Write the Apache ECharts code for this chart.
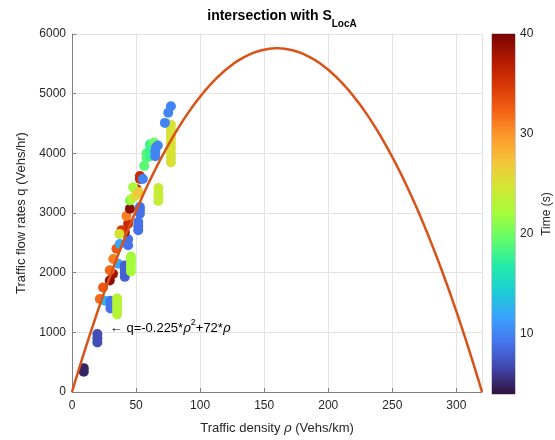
<!DOCTYPE html>
<html>
<head>
<meta charset="utf-8">
<script src="https://cdn.jsdelivr.net/npm/echarts@6/dist/echarts.min.js"></script>
<style>
  html, body { margin: 0; padding: 0; background: #fff; }
  #chart { width: 555px; height: 440px; }
</style>
</head>
<body>
<div id="chart"></div>
<script>
// measured points: density (Vehs/km), flow (Vehs/hr), time (s)
var density = [9.2, 9.2, 19.8, 19.8, 19.8, 21.7, 24.3, 25.6, 30, 30, 30,
  35.2, 35.2, 35.2, 35.2, 35.2, 29.5, 32, 29.5, 36, 41.2, 41.2, 41.2, 41.2,
  46, 46, 46, 46, 46, 32.2, 34.7, 37.3, 43.8, 43.8, 41.2, 38.6, 37,
  51.7, 51.7, 51.7, 43.8, 42.5, 45.2, 53, 53, 53, 45.2, 46.5, 50.4, 47.7,
  50, 52, 53, 53, 55.3, 56.4, 58.2, 58.2, 60.8, 60.8, 60.8, 64,
  65, 65, 65.5, 67, 67.4, 67.4, 67.4, 67.4,
  77.2, 77.2, 77.2, 77.2, 77.2, 77.2, 77.2, 77.2, 77.2, 72.5, 75.1, 77.2];
var flow = [340, 400, 830, 900, 970, 1560, 1750, 1530, 1400, 1470, 1530,
  1300, 1370, 1440, 1510, 1570, 1870, 1980, 2040, 2150, 1930, 2000, 2070, 2120,
  2020, 2090, 2160, 2230, 2270, 2230, 2400, 2480, 2460, 2560, 2680, 2710, 2650,
  2710, 2780, 2850, 2820, 2950, 3070, 2990, 3050, 3100, 3210, 3240, 3400, 3430,
  3300, 3350, 3570, 3620, 3570, 3790, 3930, 4000, 3950, 4050, 4150, 4180,
  3950, 4030, 4100, 4130, 3200, 3270, 3340, 3420,
  3850, 3930, 4010, 4090, 4170, 4250, 4330, 4410, 4480, 4510, 4680, 4790];
var time = [5, 5, 7, 7, 7, 32, 33, 13, 9, 9, 9,
  23, 23, 23, 23, 23, 39, 38, 32, 12, 8, 8, 8, 8,
  22, 22, 22, 22, 22, 31, 33, 12, 9, 9, 39, 35, 25,
  9, 9, 9, 36, 31, 39, 9, 9, 9, 20, 23, 37, 22,
  26, 27, 36, 36, 10, 19, 19, 19, 18, 18, 18, 20,
  10, 10, 10, 10, 24, 24, 24, 24,
  25, 25, 25, 25, 25, 25, 25, 25, 25, 10, 10, 10];

// fitted model q = a*rho^2 + b*rho
var fitA = -0.225;
var fitB = 72;
var rhoMax = 320;

var xTicks = { min: 0, max: 320, interval: 50 };
var yTicks = { min: 0, max: 6000, interval: 1000 };
var timeRange = [4, 40];
var timeTicks = [10, 20, 30, 40];

var turbo = ['#30123b', '#4145ab', '#4675ed', '#39a2fc', '#1bcfd4', '#24eca6',
  '#61fc6c', '#a4fc3b', '#d1e834', '#f3c63a', '#fe9b2d', '#f36315',
  '#d93806', '#b11901', '#7a0403'];

var points = density.map(function (d, i) { return [d, flow[i], time[i]]; });
var curve = [];
for (var r = 0; r <= rhoMax; r++) curve.push([r, fitA * r * r + fitB * r]);

var font = 'Liberation Sans, Arial, sans-serif';
var txt = '#262626';

var chart = echarts.init(document.getElementById('chart'));
chart.setOption({
  animation: false,
  textStyle: { fontFamily: font },
  title: {
    text: '{b|intersection with S}{s|LocA}',
    left: 277, textAlign: 'center', top: 4,
    textStyle: {
      rich: {
        b: { fontFamily: font, fontWeight: 'bold', fontSize: 14, color: '#000', lineHeight: 16, verticalAlign: 'top' },
        s: { fontFamily: font, fontWeight: 'bold', fontSize: 10, color: '#000', lineHeight: 20, verticalAlign: 'bottom' }
      }
    }
  },
  grid: [
    { left: 72, right: 73, top: 34, bottom: 46, containLabel: false },
    { left: 492, width: 23, top: 34, bottom: 46, show: true, borderColor: '#999', borderWidth: 1 }
  ],
  visualMap: {
    show: false, type: 'continuous', dimension: 2, seriesIndex: 0,
    min: timeRange[0], max: timeRange[1],
    inRange: { color: turbo }
  },
  xAxis: [{
    gridIndex: 0, type: 'value',
    min: xTicks.min, max: xTicks.max, interval: xTicks.interval,
    name: 'Traffic density {i|ρ} (Vehs/km)',
    nameLocation: 'middle', nameGap: 30,
    nameTextStyle: { color: txt, fontSize: 13, rich: { i: { fontStyle: 'italic', fontFamily: 'DejaVu Serif', fontSize: 13, color: txt } } },
    axisLine: { lineStyle: { color: '#808080', width: 1 } },
    axisTick: { inside: true, length: 4, lineStyle: { color: '#808080' } },
    axisLabel: { color: txt, fontSize: 12, margin: 8, showMaxLabel: false },
    splitLine: { show: true, lineStyle: { color: '#e3e3e3' } }
  }, {
    gridIndex: 1, type: 'category', data: ['c'], show: false
  }],
  yAxis: [{
    gridIndex: 0, type: 'value',
    min: yTicks.min, max: yTicks.max, interval: yTicks.interval,
    name: 'Traffic flow rates q (Vehs/hr)',
    nameLocation: 'middle', nameGap: 42,
    nameTextStyle: { color: txt, fontSize: 13 },
    axisLine: { show: true, lineStyle: { color: '#808080', width: 1 } },
    axisTick: { show: true, inside: true, length: 4, lineStyle: { color: '#808080' } },
    axisLabel: { color: txt, fontSize: 12, margin: 6, formatter: function (v) { return String(v); } },
    splitLine: { show: true, lineStyle: { color: '#e3e3e3' } }
  }, {
    gridIndex: 1, type: 'value', position: 'right',
    min: timeRange[0], max: timeRange[1],
    name: 'Time (s)', nameLocation: 'middle', nameGap: 26, nameRotate: 90,
    nameTextStyle: { color: txt, fontSize: 12 },
    axisLine: { show: false },
    axisTick: { show: true, inside: true, length: 3, customValues: timeTicks, lineStyle: { color: '#555' } },
    axisLabel: { color: txt, fontSize: 12, margin: 5, customValues: timeTicks },
    splitLine: { show: false }
  }],
  series: [{
    type: 'scatter', xAxisIndex: 0, yAxisIndex: 0,
    data: points, symbolSize: 10, itemStyle: { opacity: 1 }
  }, {
    type: 'line', xAxisIndex: 0, yAxisIndex: 0, z: 5,
    data: curve, showSymbol: false, smooth: false,
    lineStyle: { color: '#d95319', width: 2.5 },
    markPoint: {
      symbol: 'circle', symbolSize: 0,
      data: [{ coord: [29.5, 1070] }],
      label: {
        show: true, position: 'right', distance: 0,
        formatter: '← q=-0.225*{i|ρ}{sup|2}+72*{i|ρ}',
        color: '#000', fontSize: 13, fontFamily: font,
        rich: {
          i: { fontStyle: 'italic', fontFamily: 'DejaVu Serif', fontSize: 13, color: '#000' },
          sup: { fontSize: 9, color: '#000', verticalAlign: 'top', lineHeight: 20 }
        }
      }
    }
  }, {
    type: 'bar', xAxisIndex: 1, yAxisIndex: 1, stack: 'cb', barWidth: '100%',
    data: [timeRange[0]], itemStyle: { color: 'transparent' }, silent: true
  }, {
    type: 'bar', xAxisIndex: 1, yAxisIndex: 1, stack: 'cb', barWidth: '100%',
    data: [timeRange[1] - timeRange[0]], silent: true,
    itemStyle: {
      color: new echarts.graphic.LinearGradient(0, 1, 0, 0, turbo.map(function (c, i) {
        return { offset: i / (turbo.length - 1), color: c };
      }))
    }
  }]
});
</script>
</body>
</html>
